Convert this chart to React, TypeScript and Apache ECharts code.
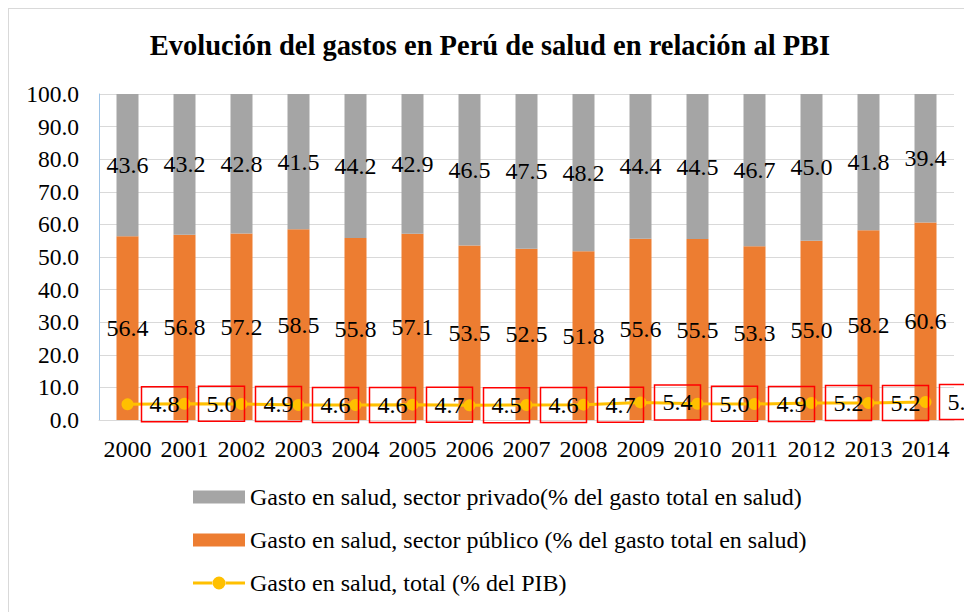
import React, { useEffect, useRef } from "react";
import * as echarts from "echarts";

const years = ["2000","2001","2002","2003","2004","2005","2006","2007","2008","2009","2010","2011","2012","2013","2014"];
const privado = [43.6, 43.2, 42.8, 41.5, 44.2, 42.9, 46.5, 47.5, 48.2, 44.4, 44.5, 46.7, 45.0, 41.8, 39.4];
const publico = [56.4, 56.8, 57.2, 58.5, 55.8, 57.1, 53.5, 52.5, 51.8, 55.6, 55.5, 53.3, 55.0, 58.2, 60.6];
const totalPib = [4.8, 5.0, 4.9, 4.6, 4.6, 4.7, 4.5, 4.6, 4.7, 5.4, 5.0, 4.9, 5.2, 5.2, 5.5];

const nPriv = "Gasto en salud, sector privado(% del gasto total en salud)";
const nPub = "Gasto en salud, sector público (% del gasto total en salud)";
const nTot = "Gasto en salud, total (% del PIB)";

const FONT = "'Liberation Serif', 'Times New Roman', serif";
const LINE_ICON =
  "path://M0,5H20V8H0Z M32,5H52V8H32Z M19.5,6.5A6.5,6.5 0 1,0 32.5,6.5A6.5,6.5 0 1,0 19.5,6.5Z";

export default function App() {
  const ref = useRef<HTMLDivElement>(null);
  useEffect(() => {
    if (!ref.current) return;
    const chart = echarts.init(ref.current, null, { renderer: "svg" });
    const fmt = (p: any) => Number(p.value).toFixed(1);
    chart.setOption({
      animation: false,
      backgroundColor: "#fff",
      textStyle: { fontFamily: FONT },
      title: {
        text: "Evolución del gastos en Perú de salud en relación al PBI",
        left: "center",
        top: 18,
        textStyle: { fontFamily: FONT, fontSize: 28.5, fontWeight: "bold", color: "#000" },
      },
      graphic: [
        { type: "line", shape: { x1: 0.5, y1: 0, x2: 0.5, y2: 700 }, style: { stroke: "#D9D9D9", lineWidth: 1 } },
        { type: "line", shape: { x1: 0, y1: 0.5, x2: 1000, y2: 0.5 }, style: { stroke: "#D9D9D9", lineWidth: 1 } },
      ],
      legend: {
        orient: "vertical",
        left: 185,
        top: 477,
        padding: 0,
        itemWidth: 52,
        itemHeight: 13,
        itemGap: 19,
        data: [
          { name: nPriv, icon: "rect" },
          { name: nPub, icon: "rect" },
          { name: nTot, icon: LINE_ICON },
        ],
        textStyle: { fontFamily: FONT, fontSize: 24, color: "#000", lineHeight: 24 },
      },
      grid: { left: 91, right: 18, top: 86, bottom: 192, containLabel: false },
      xAxis: {
        type: "category",
        data: years,
        axisLine: { lineStyle: { color: "#D9D9D9" } },
        axisTick: { show: false },
        axisLabel: { fontFamily: FONT, fontSize: 24, color: "#000", margin: 17, interval: 0 },
      },
      yAxis: {
        type: "value",
        min: 0,
        max: 100,
        interval: 10,
        axisLine: { show: true, lineStyle: { color: "#9DC3E6" } },
        axisTick: { show: false },
        splitLine: { lineStyle: { color: "#D9D9D9", width: 1 } },
        axisLabel: { fontFamily: FONT, fontSize: 23.5, color: "#000", margin: 20, formatter: (v: number) => v.toFixed(1) },
      },
      series: [
        {
          name: nPub,
          type: "bar",
          stack: "s",
          data: publico,
          barWidth: 22,
          itemStyle: { color: "#ED7D31" },
          label: { show: true, position: "inside", formatter: fmt, fontFamily: FONT, fontSize: 24, color: "#000" },
        },
        {
          name: nPriv,
          type: "bar",
          stack: "s",
          data: privado,
          barWidth: 22,
          itemStyle: { color: "#A5A5A5" },
          label: { show: true, position: "inside", formatter: fmt, fontFamily: FONT, fontSize: 24, color: "#000" },
        },
        {
          name: nTot,
          type: "line",
          data: totalPib,
          z: 5,
          symbol: "circle",
          symbolSize: 12,
          lineStyle: { color: "#FFC000", width: 3 },
          itemStyle: { color: "#FFC000" },
          label: {
            show: true,
            position: "right",
            distance: 8,
            formatter: fmt,
            fontFamily: FONT,
            fontSize: 24,
            color: "#000",
            borderColor: "#FF0000",
            borderWidth: 1.5,
            padding: [6, 8, 5, 8],
          },
        },
      ],
    });
    return () => chart.dispose();
  }, []);
  return <div ref={ref} style={{ width: 964, height: 604 }} />;
}
